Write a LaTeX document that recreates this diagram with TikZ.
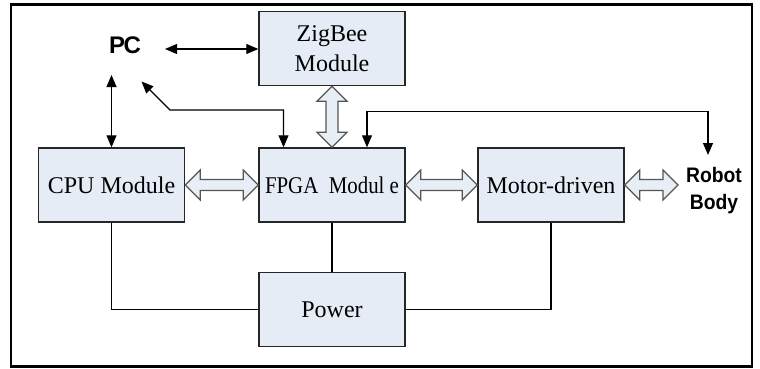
\documentclass[tikz,border=0pt]{standalone}
\usepackage{fontspec}
\usepackage{graphicx}
\setmainfont{Liberation Serif}
\newfontfamily\labsans{Liberation Sans}
\usetikzlibrary{calc,arrows.meta}
\definecolor{boxfill}{HTML}{E6ECF6}
\definecolor{arrfill}{HTML}{E8EEF6}
\definecolor{arrline}{HTML}{555555}
\tikzset{
  blockbox/.style={draw=black!85, line width=1.4pt, fill=boxfill, minimum width=146pt, minimum height=74pt, inner sep=0pt, font=\fontsize{24}{30}\selectfont, align=center},
  hollow/.style={draw=arrline, fill=arrfill, line width=1.3pt, line join=miter},
  link/.style={line width=1.1pt, black},
  tip2/.style={link, {Triangle[length=12pt,width=10pt]}-{Triangle[length=12pt,width=10pt]}},
  plainlbl/.style={inner sep=0pt, align=center}
}
\newcommand{\hollowH}[2]{\draw[hollow] let \p1=(#1), \p2=(#2) in
 (\x1,\y1) -- (\x1+15pt,\y1+15pt) -- (\x1+15pt,\y1+5.5pt) -- (\x2-15pt,\y1+5.5pt) -- (\x2-15pt,\y1+15pt) -- (\x2,\y1) -- (\x2-15pt,\y1-15pt) -- (\x2-15pt,\y1-5.5pt) -- (\x1+15pt,\y1-5.5pt) -- (\x1+15pt,\y1-15pt) -- cycle;}
\newcommand{\hollowV}[2]{\draw[hollow] let \p1=(#1), \p2=(#2) in
 (\x1,\y1) -- (\x1+15pt,\y1-15pt) -- (\x1+6pt,\y1-15pt) -- (\x1+6pt,\y2+15pt) -- (\x1+15pt,\y2+15pt) -- (\x1,\y2) -- (\x1-15pt,\y2+15pt) -- (\x1-6pt,\y2+15pt) -- (\x1-6pt,\y1-15pt) -- (\x1-15pt,\y1-15pt) -- cycle;}
\begin{document}
\begin{tikzpicture}[x=1pt,y=-1pt]
\useasboundingbox (0,0) rectangle (760,368);
\draw[line width=2.6pt] (11,4.5) rectangle (752,366.5);

\node[blockbox] (zig) at (332,48.5) {ZigBee\\Module};
\node[blockbox] (cpu) at (111.5,185) {CPU Module};
\node[blockbox] (fpga) at (332,185) {\scalebox{0.87}[1]{FPGA\ \ Modul e}};
\node[blockbox] (motor) at (551,185) {Motor-driven};
\node[blockbox] (power) at (332,309.5) {Power};

\node[plainlbl, font=\labsans\bfseries\fontsize{24}{28}\selectfont] (pc) at (125,45.5) {P\kern-1.5pt C};
\node[plainlbl, font=\labsans\bfseries\fontsize{21}{27}\selectfont] (robot) at (714,191) {\scalebox{0.92}[1]{Robot}\\\scalebox{0.92}[1]{Body}};

\coordinate (pcE) at (165,49);
\coordinate (pcS) at (111.5,75);
\coordinate (pcD) at (141.5,81.5);
\coordinate (bendA) at (170,110);
\coordinate (rbN) at (708,155);
\coordinate (rbW) at (678,185);

% thin arrows
\draw[tip2] (pcE) -- (zig.west |- pcE);
\draw[tip2] (pcS) -- (cpu.north);
\draw[tip2] (pcD) -- (bendA) -| ([xshift=-48.5pt]fpga.north);
\draw[tip2] ([xshift=35pt]fpga.north) -- ++(0,-35.5) -| (rbN);

% hollow double arrows
\hollowV{zig.south}{fpga.north}
\hollowH{cpu.east}{fpga.west}
\hollowH{fpga.east}{motor.west}
\hollowH{motor.east}{rbW}

% power lines
\draw[link] (cpu.south) |- (power.west);
\draw[link] (fpga.south) -- (power.north);
\draw[link] (motor.south) |- (power.east);
\end{tikzpicture}
\end{document}
